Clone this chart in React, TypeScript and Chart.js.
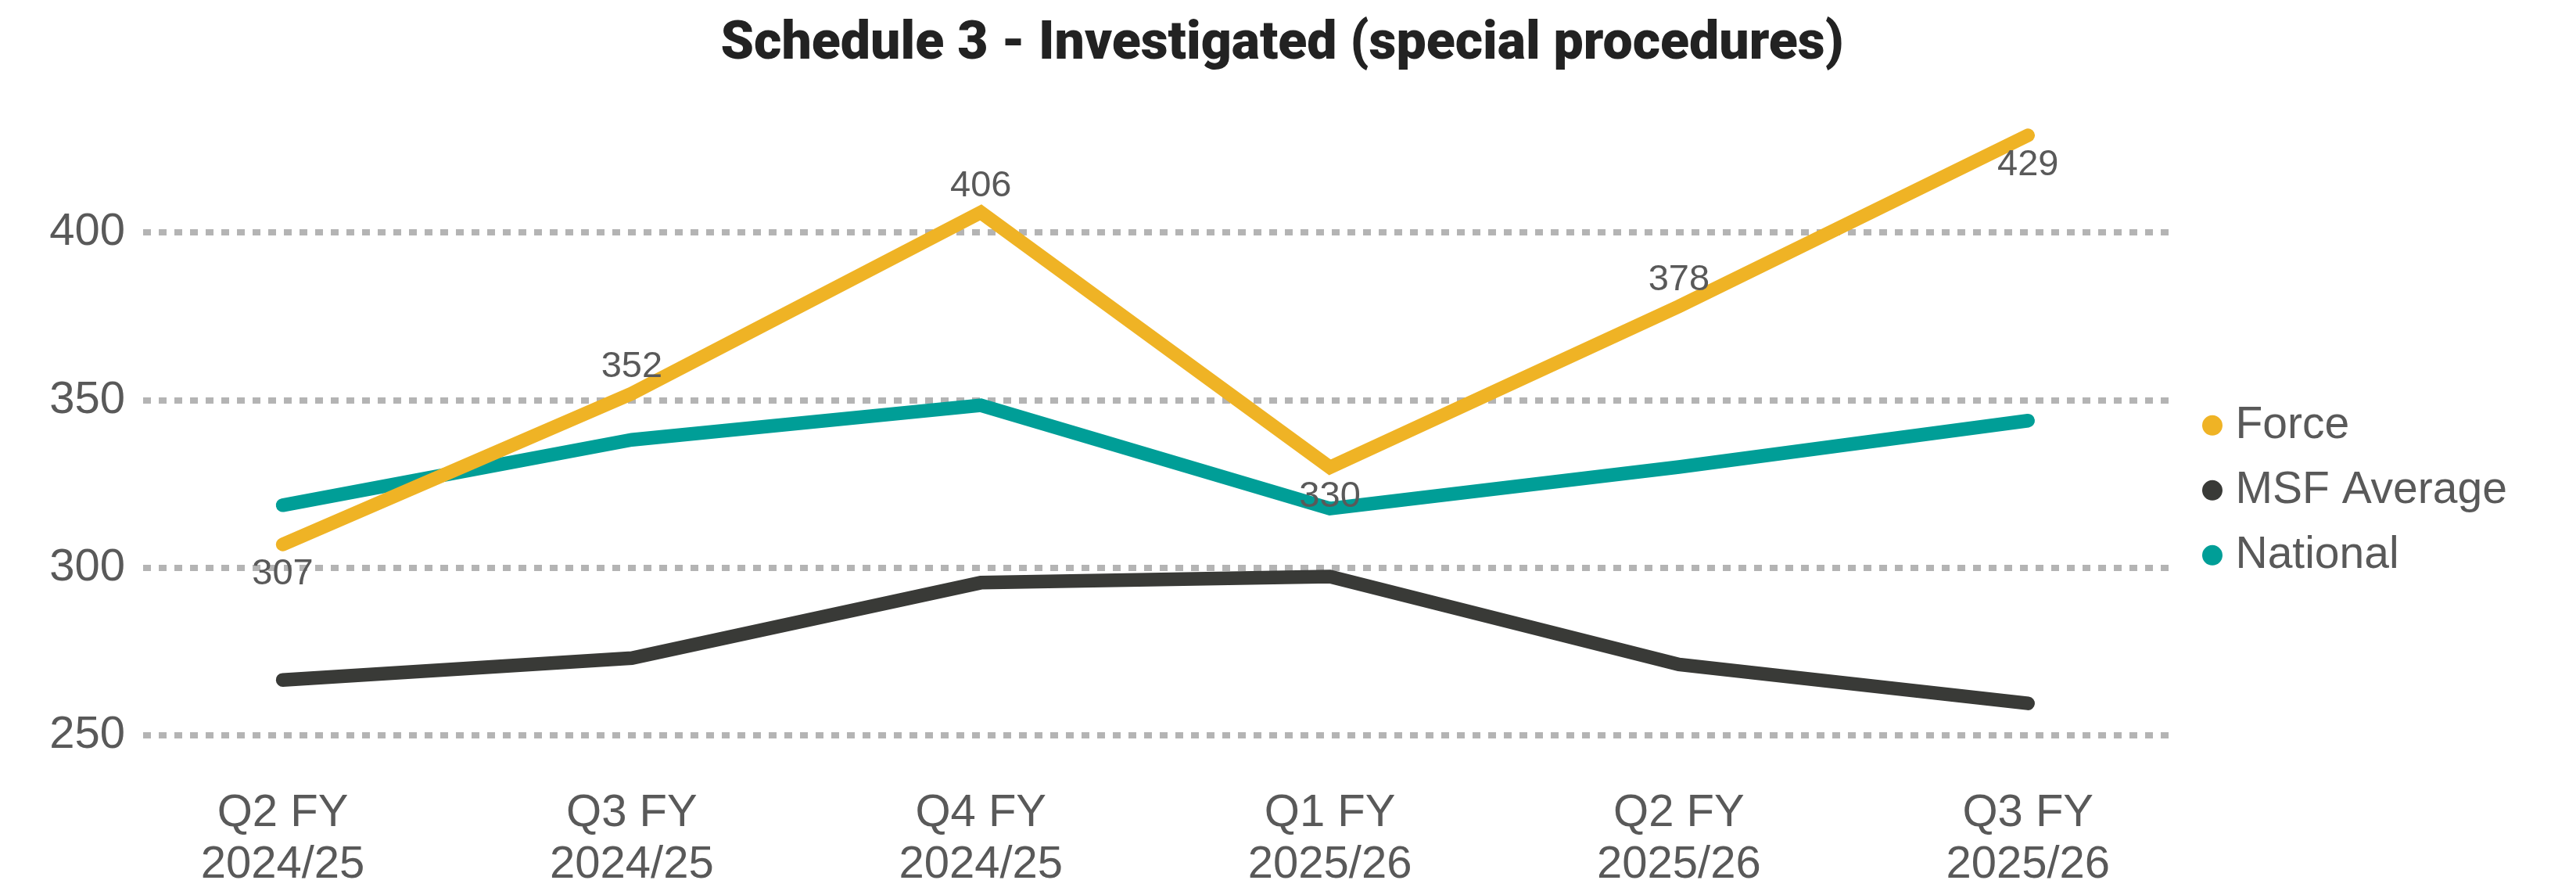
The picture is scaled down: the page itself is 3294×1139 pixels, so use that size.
import React, { useEffect, useRef } from 'react';
import { Chart, registerables } from 'chart.js';

Chart.register(...registerables);

// ---- Data ----
const quarterLabels = ['Q2 FY', 'Q3 FY', 'Q4 FY', 'Q1 FY', 'Q2 FY', 'Q3 FY'];
const yearLabels = ['2024/25', '2024/25', '2024/25', '2025/26', '2025/26', '2025/26'];
const forceValues = [307, 352, 406, 330, 378, 429];
const msfValues = [266.6, 273.1, 295.6, 297.4, 271.2, 259.6];
const nationalValues = [318.7, 338.2, 348.5, 317.7, 330.1, 343.9];
const yTickValues = [250, 300, 350, 400];
const forceLabelPlacement = ['below', 'above', 'above', 'below', 'above', 'below'];

const TITLE = 'Schedule 3 - Investigated (special procedures)';
const TEXT_GREY = '#595959';
const FONT = '"Liberation Sans", Arial, sans-serif';

const forceLabelsPlugin = {
  id: 'forceLabels',
  afterDatasetsDraw(chart: any) {
    const meta = chart.getDatasetMeta(0);
    const ctx = chart.ctx;
    ctx.save();
    ctx.font = `47px ${FONT}`;
    ctx.fillStyle = TEXT_GREY;
    ctx.textAlign = 'center';
    ctx.textBaseline = 'middle';
    meta.data.forEach((pt: any, i: number) => {
      const above = forceLabelPlacement[i] === 'above';
      ctx.fillText(String(forceValues[i]), pt.x, pt.y + (above ? -34 : 38));
    });
    ctx.restore();
  },
};

const toPoints = (vals: number[]) => vals.map((v, i) => ({ x: i, y: v }));

export default function App() {
  const canvasRef = useRef<HTMLCanvasElement | null>(null);

  useEffect(() => {
    if (!canvasRef.current) return;
    Chart.defaults.font.family = FONT;
    const lineStyle = (color: string) => ({
      borderColor: color,
      backgroundColor: color,
      borderWidth: 17.5,
      borderCapStyle: 'round' as const,
      borderJoinStyle: 'miter' as const,
      pointRadius: 0,
      pointHoverRadius: 0,
      pointStyle: 'circle' as const,
      tension: 0,
    });
    const chart = new Chart(canvasRef.current, {
      type: 'line',
      data: {
        datasets: [
          { label: 'Force', data: toPoints(forceValues), ...lineStyle('#EFB325') },
          { label: 'MSF Average', data: toPoints(msfValues), ...lineStyle('#393A37') },
          { label: 'National', data: toPoints(nationalValues), ...lineStyle('#009E97') },
        ],
      },
      plugins: [forceLabelsPlugin],
      options: {
        responsive: false,
        animation: false,
        devicePixelRatio: 1,
        layout: { padding: { left: 63.3, right: 78.1, top: 0, bottom: 0.7 } },
        plugins: {
          title: {
            display: true,
            text: TITLE,
            color: '#222222',
            font: { family: 'Roboto, "DejaVu Sans", sans-serif', size: 68, weight: 900, lineHeight: 1.2 },
            padding: { top: 17.2, bottom: 11.2 },
          },
          legend: {
            position: 'right',
            title: {
              display: true,
              text: ' ',
              font: { size: 10, lineHeight: 1 },
              padding: { top: 0, bottom: 105.4 },
            },
            labels: {
              usePointStyle: true,
              pointStyle: 'circle',
              boxWidth: 2,
              boxHeight: 18.4,
              padding: 26,
              color: TEXT_GREY,
              font: { size: 57 },
              generateLabels: (c: any) =>
                (Chart.defaults.plugins.legend.labels.generateLabels as any)(c).map((l: any) => ({
                  ...l,
                  lineWidth: 0,
                })),
            },
          },
          tooltip: { enabled: false },
        },
        scales: {
          x: {
            type: 'linear',
            min: -0.4,
            max: 5.404,
            grid: { display: false, drawTicks: false },
            border: { display: false },
            afterBuildTicks: (s: any) => {
              s.ticks = quarterLabels.map((_, i) => ({ value: i }));
            },
            afterFit: (s: any) => {
              s.height = 198;
            },
            ticks: {
              autoSkip: false,
              maxRotation: 0,
              minRotation: 0,
              padding: 67,
              color: TEXT_GREY,
              font: { size: 58, lineHeight: 1.13 },
              callback: (v: any) => [quarterLabels[v], yearLabels[v]],
            },
          },
          y: {
            type: 'linear',
            min: 250,
            max: 443.7,
            afterBuildTicks: (s: any) => {
              s.ticks = yTickValues.map((v) => ({ value: v }));
            },
            afterFit: (s: any) => {
              s.width = 119.7;
            },
            grid: { color: '#B4B4B4', lineWidth: 8, drawTicks: false },
            border: { display: false, dash: [10, 10] },
            ticks: { color: TEXT_GREY, font: { size: 58 }, padding: 23 },
          },
          pad: {
            type: 'linear',
            position: 'right',
            display: true,
            grid: { display: false, drawTicks: false },
            border: { display: false },
            ticks: { display: false },
            afterFit: (s: any) => {
              s.width = 28.4;
            },
          },
        },
      } as any,
    });
    return () => chart.destroy();
  }, []);

  return (
    <div style={{ position: 'fixed', left: 0, top: 0, width: 3294, height: 1139, background: '#fff' }}>
      <canvas ref={canvasRef} width={3294} height={1139} style={{ display: 'block', width: 3294, height: 1139 }} />
    </div>
  );
}
